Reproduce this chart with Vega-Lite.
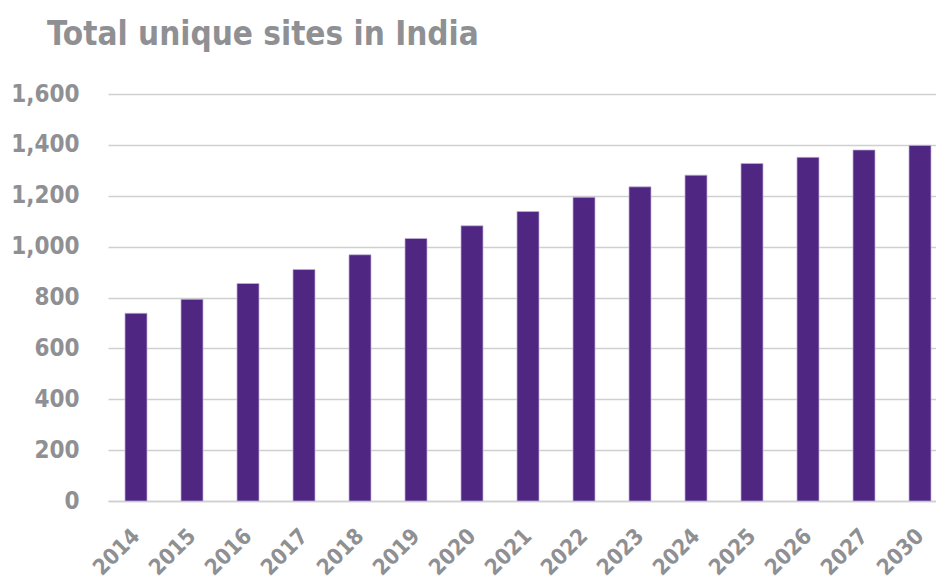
{
  "$schema": "https://vega.github.io/schema/vega-lite/v6.json",
  "autosize": {"type": "none"},
  "padding": {"left": 108, "top": 94, "right": 0, "bottom": 82},
  "width": 840,
  "height": 407,
  "background": "white",
  "title": {
    "text": "Total unique sites in India",
    "anchor": "start",
    "frame": "group",
    "dx": -61,
    "offset": 30,
    "font": "Liberation Sans Narrow, DejaVu Sans Condensed, Liberation Sans, sans-serif",
    "fontSize": 33,
    "fontWeight": "bold",
    "color": "#8f9094"
  },
  "data": {
    "values": [
      {"year": "2014", "sites": 738},
      {"year": "2015", "sites": 793},
      {"year": "2016", "sites": 855},
      {"year": "2017", "sites": 910},
      {"year": "2018", "sites": 968},
      {"year": "2019", "sites": 1032},
      {"year": "2020", "sites": 1082},
      {"year": "2021", "sites": 1138},
      {"year": "2022", "sites": 1194},
      {"year": "2023", "sites": 1235},
      {"year": "2024", "sites": 1281},
      {"year": "2025", "sites": 1327},
      {"year": "2026", "sites": 1351},
      {"year": "2027", "sites": 1380},
      {"year": "2030", "sites": 1398}
    ]
  },
  "mark": {"type": "bar", "color": "#4f2682", "stroke": "#c2b3dd", "strokeWidth": 0.7},
  "encoding": {
    "x": {
      "field": "year",
      "type": "nominal",
      "sort": null,
      "scale": {"paddingInner": 0.607, "paddingOuter": 0.3035},
      "axis": {
        "title": null,
        "labelAngle": -45,
        "labelAlign": "right",
        "labelBaseline": "middle",
        "labelFont": "Liberation Sans Narrow, DejaVu Sans Condensed, Liberation Sans, sans-serif",
        "labelFontSize": 22,
        "labelFontWeight": "bold",
        "labelColor": "#8f9094",
        "labelPadding": 31,
        "ticks": false,
        "domain": true,
        "domainColor": "#d0d0d0",
        "domainWidth": 1.5
      }
    },
    "y": {
      "field": "sites",
      "type": "quantitative",
      "scale": {"domain": [0, 1600]},
      "axis": {
        "title": null,
        "values": [0, 200, 400, 600, 800, 1000, 1200, 1400, 1600],
        "format": ",d",
        "labelFont": "Liberation Sans Narrow, DejaVu Sans Condensed, Liberation Sans, sans-serif",
        "labelFontSize": 24,
        "labelFontWeight": "bold",
        "labelColor": "#8f9094",
        "labelPadding": 29,
        "ticks": false,
        "domain": false,
        "grid": true,
        "gridColor": "#d0d0d0",
        "gridWidth": 1.5
      }
    }
  },
  "config": {"view": {"stroke": null}}
}
